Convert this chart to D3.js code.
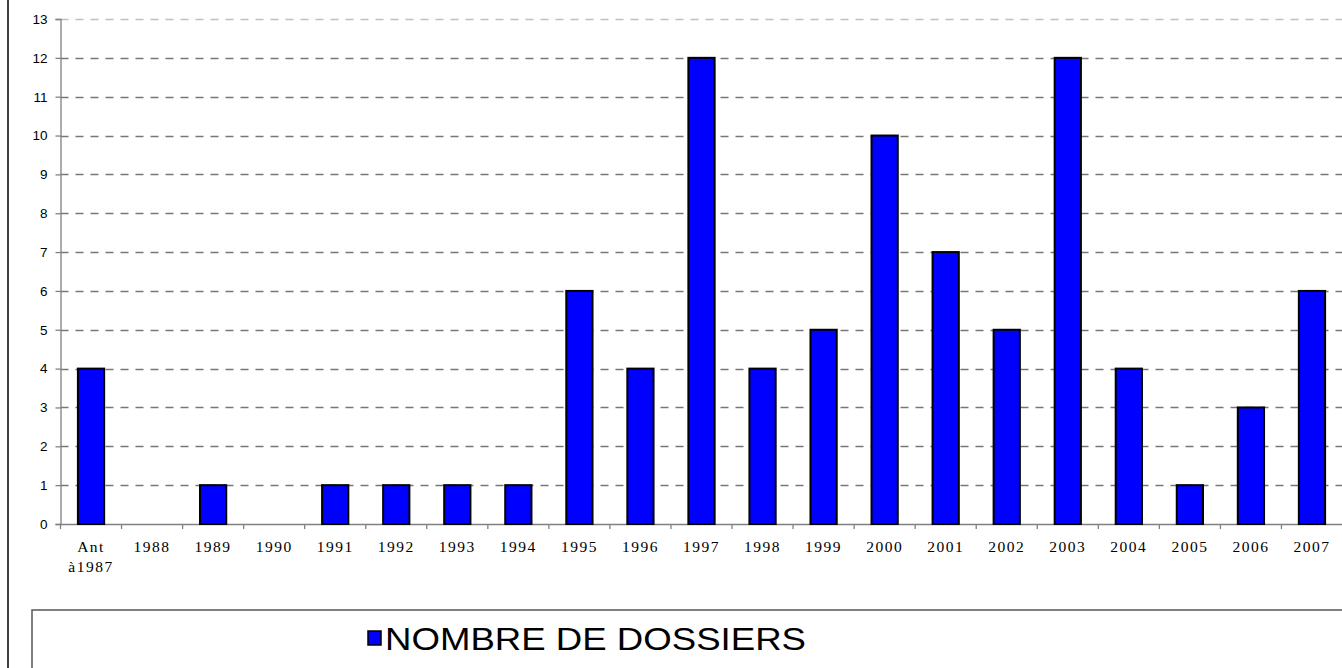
<!DOCTYPE html>
<html>
<head>
<meta charset="utf-8">
<script src="https://cdn.jsdelivr.net/npm/d3@7"></script>
<style>
  body { margin: 0; background: #fff; }
  svg { display: block; }
</style>
</head>
<body>
<script>
(function(){

//chart data
var categories = ["Ant|à1987", "1988", "1989", "1990", "1991", "1992", "1993", "1994", "1995", "1996", "1997",
                  "1998", "1999", "2000", "2001", "2002", "2003", "2004", "2005", "2006", "2007"];
var dossiers = [4, 0, 1, 0, 1, 1, 1, 1, 6, 4, 12, 4, 5, 10, 7, 5, 12, 4, 1, 3, 6];
var yTicks = [0, 1, 2, 3, 4, 5, 6, 7, 8, 9, 10, 11, 12, 13];
var seriesName = "NOMBRE DE DOSSIERS";

var width = 1342,
    height = 668,
    plotLeft = 60.5,
    plotRight = 1342.5,
    plotTop = 19,
    plotBottom = 524;

var svg = d3.select("body")
    .append("svg")
    .attr("width", width)
    .attr("height", height);

var x = d3.scaleBand()
    .domain(categories)
    .range([plotLeft, plotRight])
    .paddingInner(0.57)
    .paddingOuter(0.285);

var y = d3.scaleLinear()
    .domain([0, 13])
    .range([plotBottom, plotTop]);

//outer frame line on the left
svg.append("line")
    .attr("x1", 8).attr("x2", 8)
    .attr("y1", 0).attr("y2", height)
    .attr("stroke", "#404040")
    .attr("stroke-width", 2);

//dashed gridlines
svg.selectAll(".grid")
    .data(yTicks.filter(function(d){ return d > 0; }))
    .enter()
    .append("line")
    .attr("class", "grid")
    .attr("x1", plotLeft).attr("x2", plotRight)
    .attr("y1", function(d){ return Math.round(y(d)) + 0.5; })
    .attr("y2", function(d){ return Math.round(y(d)) + 0.5; })
    .attr("stroke", function(d){ return d == 13 ? "#c0c0c0" : "#777"; })
    .attr("stroke-width", 1.3)
    .attr("stroke-dasharray", "8,7");

//y axis
var yAxis = d3.axisLeft(y)
    .tickValues(yTicks)
    .tickSize(5)
    .tickPadding(8);

var yg = svg.append("g")
    .attr("transform", "translate(" + plotLeft + ",0)")
    .call(yAxis);
yg.select(".domain").attr("stroke", "#808080").attr("stroke-width", 1.3);
yg.selectAll(".tick line").attr("stroke", "#808080").attr("stroke-width", 1.3);
yg.selectAll(".tick text")
    .attr("font-family", "'Liberation Sans', Arial, sans-serif")
    .attr("font-size", 13.5)
    .attr("fill", "#000");

//x axis line and boundary ticks
svg.append("line")
    .attr("x1", plotLeft).attr("x2", plotRight)
    .attr("y1", plotBottom + 0.5).attr("y2", plotBottom + 0.5)
    .attr("stroke", "#808080")
    .attr("stroke-width", 1.3);

var step = x.step();
svg.selectAll(".xtick")
    .data(categories)
    .enter()
    .append("line")
    .attr("class", "xtick")
    .attr("x1", function(d){ return x(d) - step * 0.285; })
    .attr("x2", function(d){ return x(d) - step * 0.285; })
    .attr("y1", plotBottom)
    .attr("y2", plotBottom + 5)
    .attr("stroke", "#808080")
    .attr("stroke-width", 1.3);

//bars (skip empty years)
var barData = categories.map(function(c, i){
    return {cat: c, val: dossiers[i]};
}).filter(function(d){ return d.val > 0; });

svg.selectAll(".bar")
    .data(barData)
    .enter()
    .append("rect")
    .attr("class", "bar")
    .attr("x", function(d){ return x(d.cat); })
    .attr("width", x.bandwidth())
    .attr("y", function(d){ return y(d.val); })
    .attr("height", function(d){ return plotBottom - y(d.val); })
    .attr("fill", "#0000ff")
    .attr("stroke", "#000")
    .attr("stroke-width", 2);

//category labels
var labels = svg.selectAll(".xlabel")
    .data(categories)
    .enter()
    .append("text")
    .attr("class", "xlabel")
    .attr("text-anchor", "middle")
    .attr("font-family", "'Liberation Serif', 'Times New Roman', serif")
    .attr("font-size", 15.5)
    .attr("letter-spacing", 1.5)
    .attr("fill", "#000");

labels.each(function(d){
    var lines = d.split("|");
    var cx = x(d) + x.bandwidth() / 2;
    d3.select(this).selectAll("tspan")
        .data(lines)
        .enter()
        .append("tspan")
        .attr("x", cx)
        .attr("y", function(l, j){ return 552 + j * 20; })
        .text(function(l){ return l; });
});

//legend
svg.append("rect")
    .attr("x", 32)
    .attr("y", 610)
    .attr("width", 1400)
    .attr("height", 100)
    .attr("fill", "none")
    .attr("stroke", "#555")
    .attr("stroke-width", 1.5);

svg.append("rect")
    .attr("x", 368)
    .attr("y", 631)
    .attr("width", 13)
    .attr("height", 14)
    .attr("fill", "#0000ff")
    .attr("stroke", "#000")
    .attr("stroke-width", 1.5);

svg.append("text")
    .attr("x", 385)
    .attr("y", 650)
    .attr("font-family", "'Liberation Sans', Arial, sans-serif")
    .attr("font-size", 32)
    .attr("textLength", 421)
    .attr("lengthAdjust", "spacingAndGlyphs")
    .attr("fill", "#000")
    .text(seriesName);

})();
</script>
</body>
</html>
